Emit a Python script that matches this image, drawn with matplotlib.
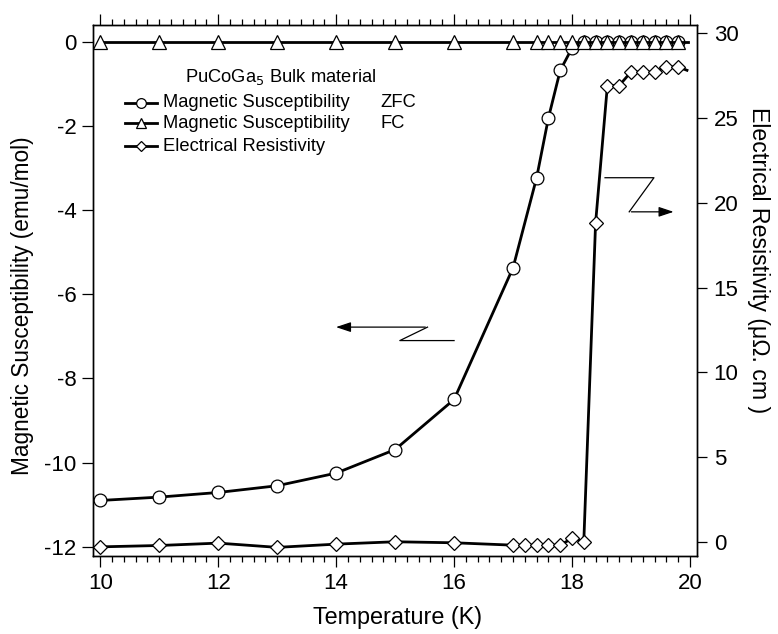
import matplotlib
matplotlib.use("Agg")
import matplotlib.pyplot as plt
from matplotlib.lines import Line2D
from matplotlib.ticker import MultipleLocator, FormatStrFormatter

plt.rcParams['font.family'] = ['Liberation Sans', 'DejaVu Sans']
plt.rcParams['axes.unicode_minus'] = False

# ZFC susceptibility (emu/mol)
temp_zfc = [10, 11, 12, 13, 14, 15, 16, 17, 17.4, 17.6, 17.8, 18.0,
            18.2, 18.4, 18.6, 18.8, 19.0, 19.2, 19.4, 19.6, 19.8]
chi_zfc = [-10.90, -10.82, -10.71, -10.55, -10.25, -9.69, -8.50, -5.37,
           -3.23, -1.81, -0.68, -0.15,
           0, 0, 0, 0, 0, 0, 0, 0, 0]

# FC susceptibility (emu/mol), last point has no marker
temp_fc = [10, 11, 12, 13, 14, 15, 16, 17, 17.4, 17.6, 17.8, 18.0,
           18.2, 18.4, 18.6, 18.8, 19.0, 19.2, 19.4, 19.6, 19.8, 19.97]
chi_fc = [0] * len(temp_fc)

# resistivity (micro-ohm cm), last point has no marker
temp_res = [10, 11, 12, 13, 14, 15, 16, 17, 17.2, 17.4, 17.6, 17.8, 18.0,
            18.2, 18.4, 18.6, 18.8, 19.0, 19.2, 19.4, 19.6, 19.8, 19.95]
rho = [-0.28, -0.20, -0.06, -0.31, -0.12, 0.02, -0.04, -0.18, -0.18, -0.18,
       -0.18, -0.18, 0.22, 0.02, 18.8, 26.9, 26.9, 27.7, 27.7, 27.7,
       28.0, 28.0, 27.8]

fig = plt.figure(figsize=(7.78, 6.34), dpi=100)
ax = fig.add_axes([0.1195, 0.123, 0.7764, 0.8376])
ax2 = ax.twinx()

mk = dict(markerfacecolor='white', markeredgecolor='black', markeredgewidth=0.9)
lw = 2.0

ax.plot(temp_zfc, chi_zfc, color='black', lw=lw, marker='o', markersize=9.2, zorder=3, **mk)
ax.plot(temp_fc, chi_fc, color='black', lw=lw, marker='^', markersize=9.5,
        markevery=list(range(len(temp_fc) - 1)), zorder=4, **mk)
ax2.plot(temp_res, rho, color='black', lw=lw, marker='D', markersize=7,
         markevery=list(range(len(temp_res) - 1)), **mk)

ax.set_xlim(9.876, 20.12)
ax.set_ylim(-12.22, 0.40)
ax2.set_ylim(-0.82, 30.47)

ax.xaxis.set_major_locator(MultipleLocator(2))
ax.xaxis.set_minor_locator(MultipleLocator(0.2))
ax.yaxis.set_major_locator(MultipleLocator(2))
ax2.yaxis.set_major_locator(MultipleLocator(5))
ax.yaxis.set_major_formatter(FormatStrFormatter('%d'))
ax2.yaxis.set_major_formatter(FormatStrFormatter('%d'))

ax.tick_params(axis='x', which='both', direction='out', top=True, labelsize=16, width=0.9)
ax.tick_params(axis='x', which='major', length=8, pad=4)
ax.tick_params(axis='x', which='minor', length=4.3)
ax.tick_params(axis='y', which='major', direction='out', length=8, width=0.9, labelsize=16, pad=4)
ax2.tick_params(axis='y', which='major', direction='out', length=7, width=0.9, labelsize=16, pad=5)
for a in (ax, ax2):
    for s in a.spines.values():
        s.set_linewidth(1.0)

ax.set_xlabel('Temperature (K)', fontsize=16.8, va='top')
ax.xaxis.set_label_coords(0.504, -0.094)
ax.set_ylabel('Magnetic Susceptibility (emu/mol)', fontsize=16.3, va='bottom')
ax.yaxis.set_label_coords(-0.0977, 0.471)
ax2.set_ylabel('Electrical Resistivity (\u03bc\u03a9. cm )', fontsize=16.7,
               rotation=270, va='bottom', rotation_mode='anchor')
ax2.yaxis.set_label_coords(1.083, 0.557)

# Z-shaped arrows pointing to the axes
ax.plot([16.0, 15.08, 15.55], [-7.10, -7.10, -6.78], color='black', lw=0.9)
ax.annotate('', xy=(13.95, -6.78), xytext=(15.56, -6.78),
            arrowprops=dict(arrowstyle='-|>,head_length=0.9,head_width=0.3', color='black', lw=0.9))
ax2.plot([18.56, 19.39, 18.97], [21.47, 21.47, 19.46], color='black', lw=0.9)
ax2.annotate('', xy=(19.77, 19.46), xytext=(18.96, 19.46),
             arrowprops=dict(arrowstyle='-|>,head_length=0.9,head_width=0.3', color='black', lw=0.9))

# legend drawn by hand
ax.text(0.152, 0.9026, 'PuCoGa$_5$ Bulk material', transform=ax.transAxes,
        fontsize=13.2, ha='left', va='center')
rows = [(0.8537, 'o', 'Magnetic Susceptibility', 'ZFC', 7),
        (0.8149, '^', 'Magnetic Susceptibility', 'FC', 7),
        (0.7721, 'D', 'Electrical Resistivity', '', 5.4)]
for y, m, lab, tag, ms in rows:
    ax.add_line(Line2D([0.053, 0.0793, 0.1055], [y, y, y], transform=ax.transAxes,
                       color='black', lw=lw, marker=m, markersize=ms, markevery=[1], **mk))
    ax.text(0.1154, y, lab, transform=ax.transAxes, fontsize=13.2, ha='left', va='center')
    if tag:
        ax.text(0.4752, y, tag, transform=ax.transAxes, fontsize=13.2, ha='left', va='center')

fig.savefig('out.png', dpi=100)
